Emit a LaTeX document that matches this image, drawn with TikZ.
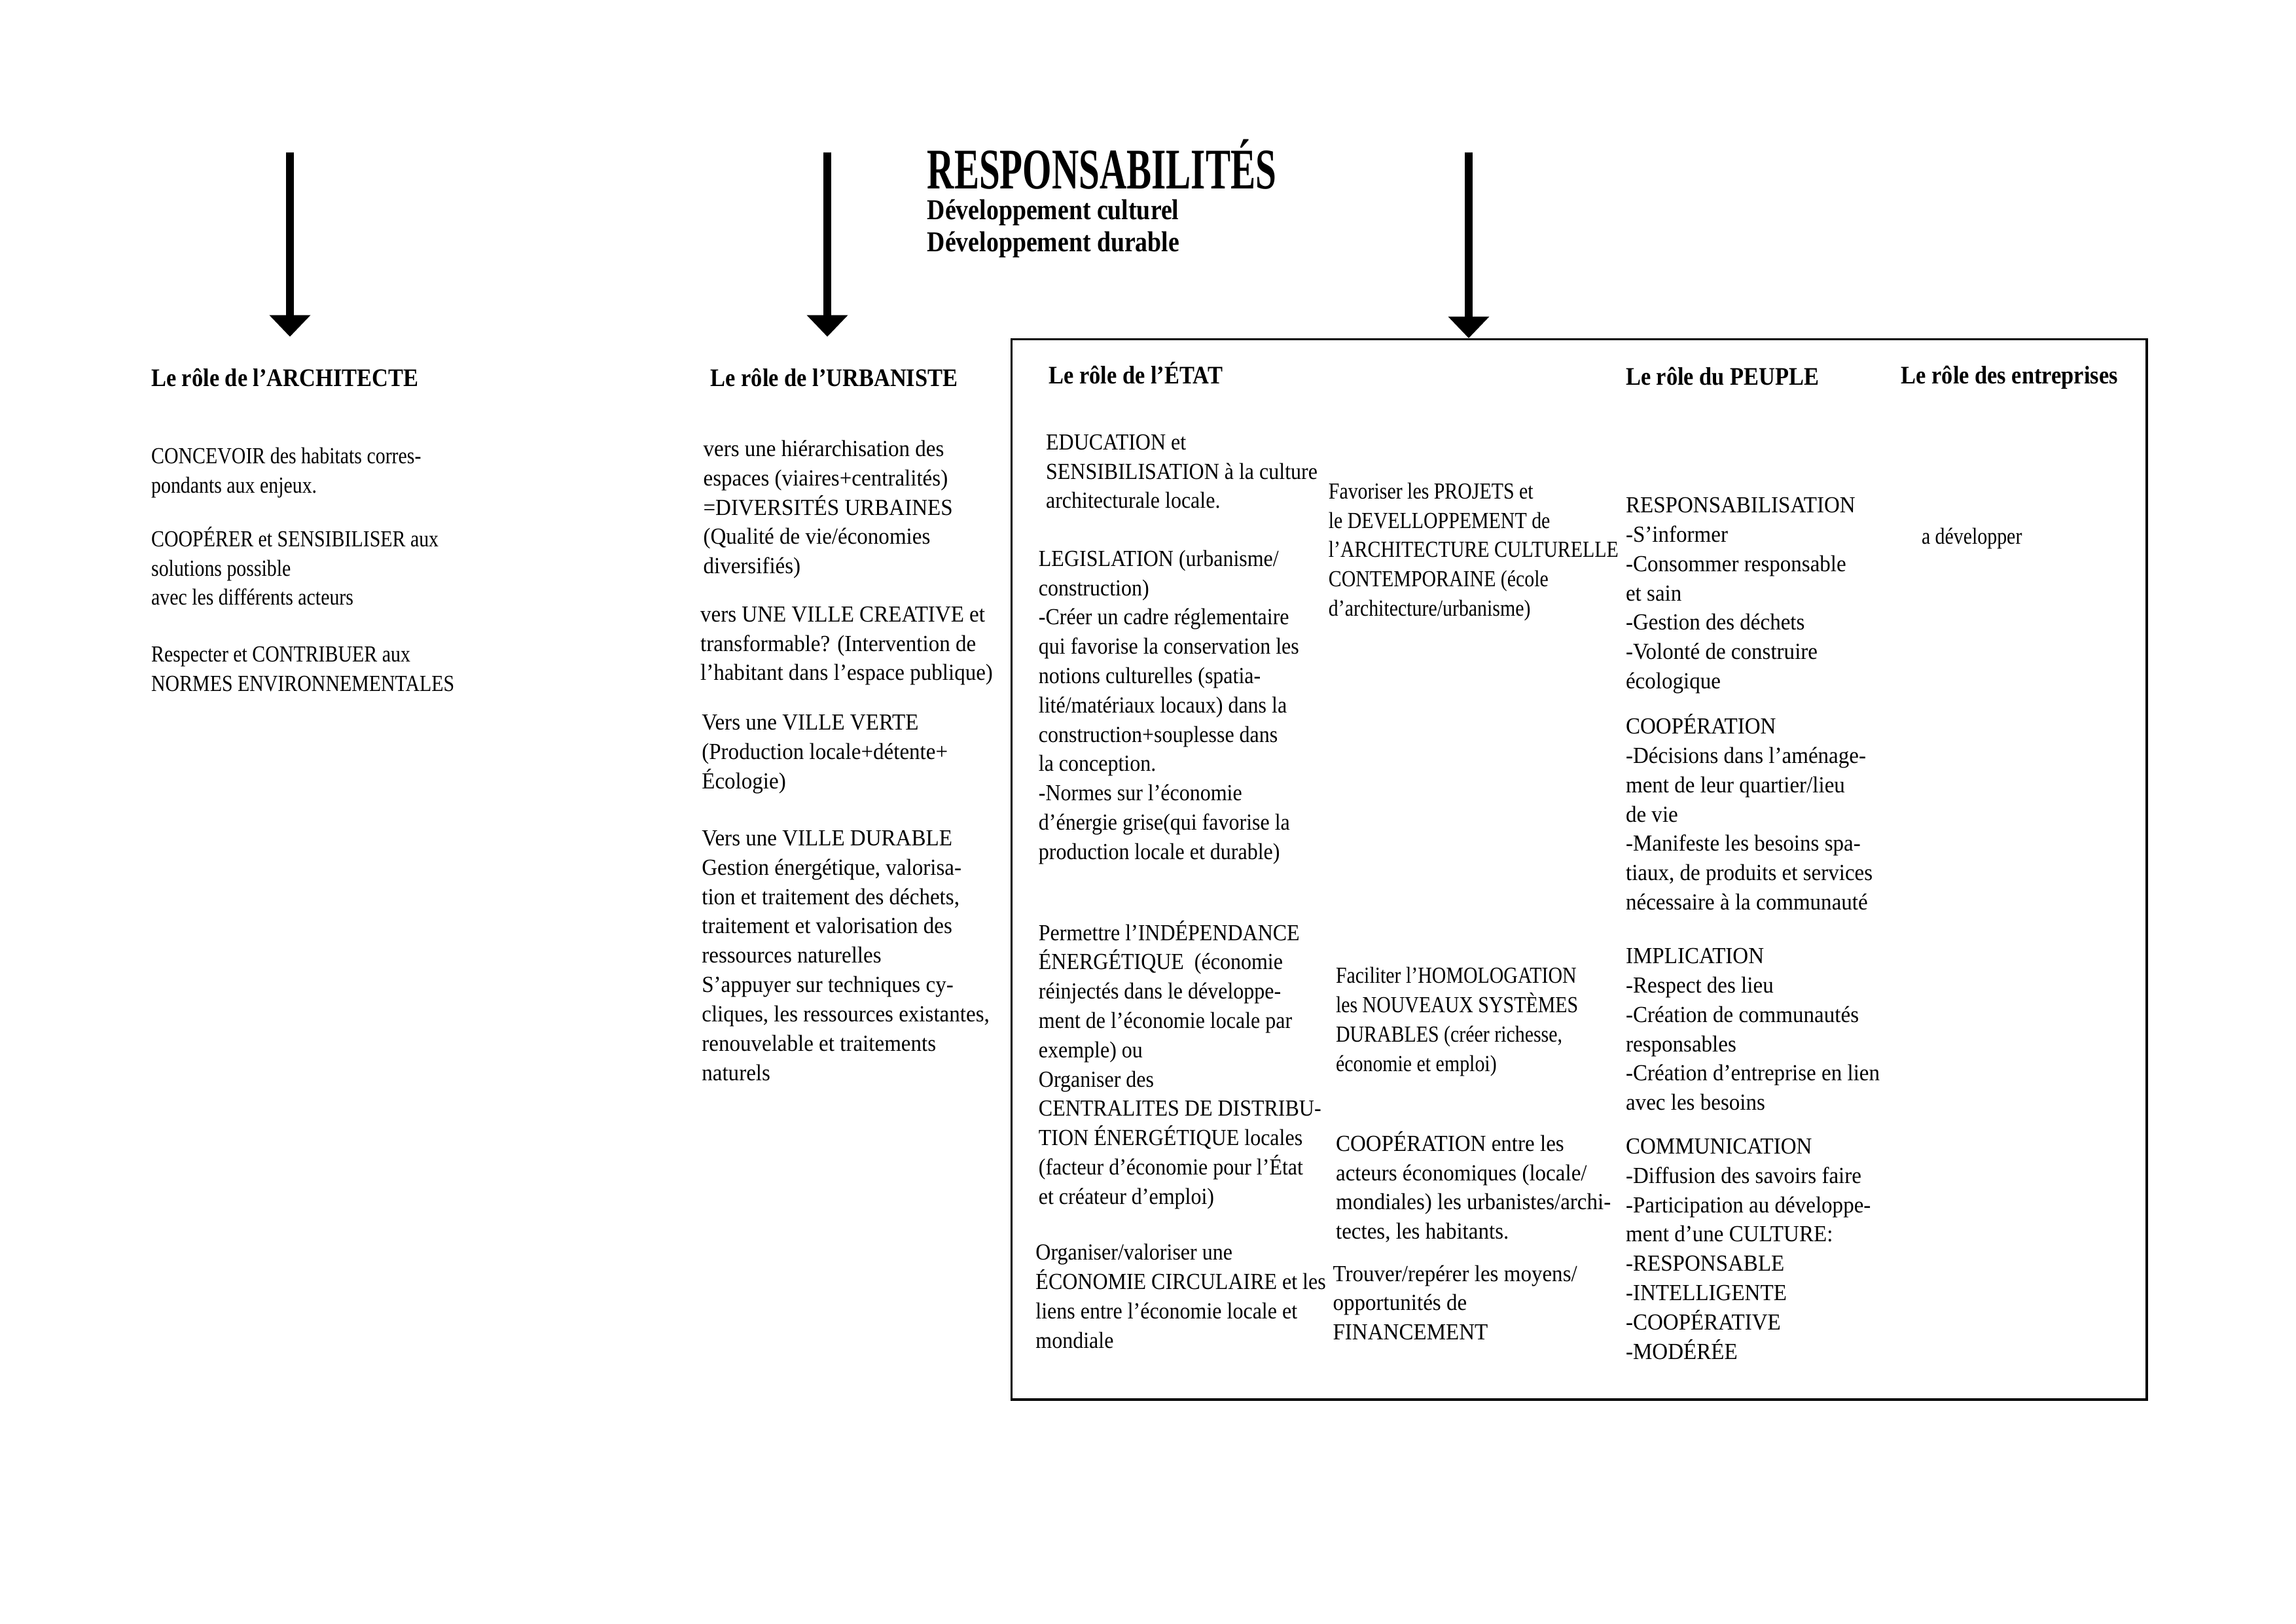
\documentclass[tikz,border=0pt]{standalone}
\usepackage{fontspec}
\setmainfont{Liberation Serif}[FakeStretch=0.94]
\newfontfamily\condfont{Liberation Serif}[FakeStretch=0.85]
\newfontfamily\etatfont{Liberation Serif}[FakeStretch=0.91]
\newfontfamily\headfont{Liberation Serif}[FakeStretch=0.89]
\newfontfamily\titlefont{Liberation Serif}[FakeStretch=0.65]
\newfontfamily\subfont{Liberation Serif}[FakeStretch=0.86]
\usetikzlibrary{positioning,arrows.meta}
\tikzset{
  txt/.style={anchor=north west, align=left, inner sep=0pt,
              font=\fontsize{10}{12.75}\selectfont, execute at begin node=\strut},
  ctxt/.style={txt, font=\condfont\fontsize{10}{12.75}\selectfont},
  etxt/.style={txt, font=\etatfont\fontsize{10}{12.75}\selectfont},
  hd/.style={anchor=base west, inner sep=0pt,
             font=\headfont\bfseries\fontsize{11}{13}\selectfont},
  sub/.style={anchor=base west, inner sep=0pt,
              font=\subfont\bfseries\fontsize{12.5}{14}\selectfont},
  ar/.style={-{Triangle[length=3.3mm, width=6.1mm]}, line width=3.4pt},
  frame/.style={draw, line width=1pt, anchor=north west, inner sep=0pt,
                minimum width=17.34cm, minimum height=16.20cm},
}

\begin{document}
\begin{tikzpicture}[x=0.022372cm, y=-0.022372cm]
  \useasboundingbox (0,0) rectangle (1568,1109);

  \node[anchor=base west, inner sep=0pt,
        font=\titlefont\bfseries\fontsize{25}{28}\selectfont] (title) at (633,129) {RESPONSABILITÉS};
  \node[sub] (sub1) at (633,150) {Développement culturel};
  \node[sub] (sub2) at (633,172) {Développement durable};

  \node[frame] (cadre) at (690,231) {};

  \coordinate (a1s) at (198,104);
  \coordinate (a1e) at (198,230);
  \coordinate (a2s) at (565,104);
  \coordinate (a2e) at (565,230);
  \coordinate (a3s) at (1003,104);
  \draw[ar] (a1s) -- (a1e);
  \draw[ar] (a2s) -- (a2e);
  \draw[ar] (a3s) -- (a3s |- cadre.north);

  \node[hd] (harch) at (103,264) {Le rôle de l’ARCHITECTE};
  \node[hd] (hurb) at (485,264) {Le rôle de l’URBANISTE};
  \node[hd] (hetat) at (716,262) {Le rôle de l’ÉTAT};
  \node[hd] (hpeuple) at (1110,263) {Le rôle du PEUPLE};
  \node[hd] (hentr) at (1298,262) {Le rôle des entreprises};

  \node[ctxt] (arch1) at (103,305.5) {CONCEVOIR des habitats corres-\\pondants aux enjeux.};
  \node[ctxt] (arch2) at (103,359.5) {COOPÉRER et SENSIBILISER aux\\solutions possible\\avec les différents acteurs};
  \node[ctxt] (arch3) at (103,441.5) {Respecter et CONTRIBUER aux\\NORMES ENVIRONNEMENTALES};

  \node[txt] (urb1) at (480,300.5) {vers une hiérarchisation des\\espaces (viaires+centralités)\\=DIVERSITÉS URBAINES\\(Qualité de vie/économies\\diversifiés)};
  \node[txt] (urb2) at (478,414) {vers UNE VILLE CREATIVE et\\transformable? (Intervention de\\l’habitant dans l’espace publique)};
  \node[txt] (urb3) at (479,488) {Vers une VILLE VERTE\\(Production locale+détente+\\Écologie)};
  \node[txt] (urb4) at (479,567) {Vers une VILLE DURABLE\\Gestion énergétique, valorisa-\\tion et traitement des déchets,\\traitement et valorisation des\\ressources naturelles\\S’appuyer sur techniques cy-\\cliques, les ressources existantes,\\renouvelable et traitements\\naturels};

  \node[etxt] (etat1) at (714,296.5) {EDUCATION et\\SENSIBILISATION à la culture\\architecturale locale.};
  \node[etxt] (etat2) at (709,375.5) {LEGISLATION (urbanisme/\\construction)\\-Créer un cadre réglementaire\\qui favorise la conservation les\\notions culturelles (spatia-\\lité/matériaux locaux) dans la\\construction+souplesse dans\\la conception.\\-Normes sur l’économie\\d’énergie grise(qui favorise la\\production locale et durable)};
  \node[etxt] (etat3) at (709,628.5) {Permettre l’INDÉPENDANCE\\ÉNERGÉTIQUE\ \ (économie\\réinjectés dans le développe-\\ment de l’économie locale par\\exemple) ou\\Organiser des\\CENTRALITES DE DISTRIBU-\\TION ÉNERGÉTIQUE locales\\(facteur d’économie pour l’État\\et créateur d’emploi)};
  \node[etxt] (etat4) at (707,849.5) {Organiser/valoriser une\\ÉCONOMIE CIRCULAIRE et les\\liens entre l’économie locale et\\mondiale};

  \node[ctxt] (etatb1) at (907,329.5) {Favoriser les PROJETS et\\le DEVELLOPPEMENT de\\l’ARCHITECTURE CULTURELLE\\CONTEMPORAINE (école\\d’architecture/urbanisme)};
  \node[ctxt] (etatb2) at (912,660.5) {Faciliter l’HOMOLOGATION\\les NOUVEAUX SYSTÈMES\\DURABLES (créer richesse,\\économie et emploi)};
  \node[txt] (etatb3) at (912,772.5) {COOPÉRATION entre les\\acteurs économiques (locale/\\mondiales) les urbanistes/archi-\\tectes, les habitants.};
  \node[txt] (etatb4) at (910,864) {Trouver/repérer les moyens/\\opportunités de\\FINANCEMENT};

  \node[txt] (peuple1) at (1110,339.5) {RESPONSABILISATION\\-S’informer\\-Consommer responsable\\et sain\\-Gestion des déchets\\-Volonté de construire\\écologique};
  \node[txt] (peuple2) at (1110,487.5) {COOPÉRATION\\-Décisions dans l’aménage-\\ment de leur quartier/lieu\\de vie\\-Manifeste les besoins spa-\\tiaux, de produits et services\\nécessaire à la communauté};
  \node[txt] (peuple3) at (1110,647.5) {IMPLICATION\\-Respect des lieu\\-Création de communautés\\responsables\\-Création d’entreprise en lien\\avec les besoins};
  \node[txt] (peuple4) at (1110,777.5) {COMMUNICATION\\-Diffusion des savoirs faire\\-Participation au développe-\\ment d’une CULTURE:\\-RESPONSABLE\\-INTELLIGENTE\\-COOPÉRATIVE\\-MODÉRÉE};

  \node[ctxt] (entr1) at (1312,357.5) {a développer};
\end{tikzpicture}
\end{document}
